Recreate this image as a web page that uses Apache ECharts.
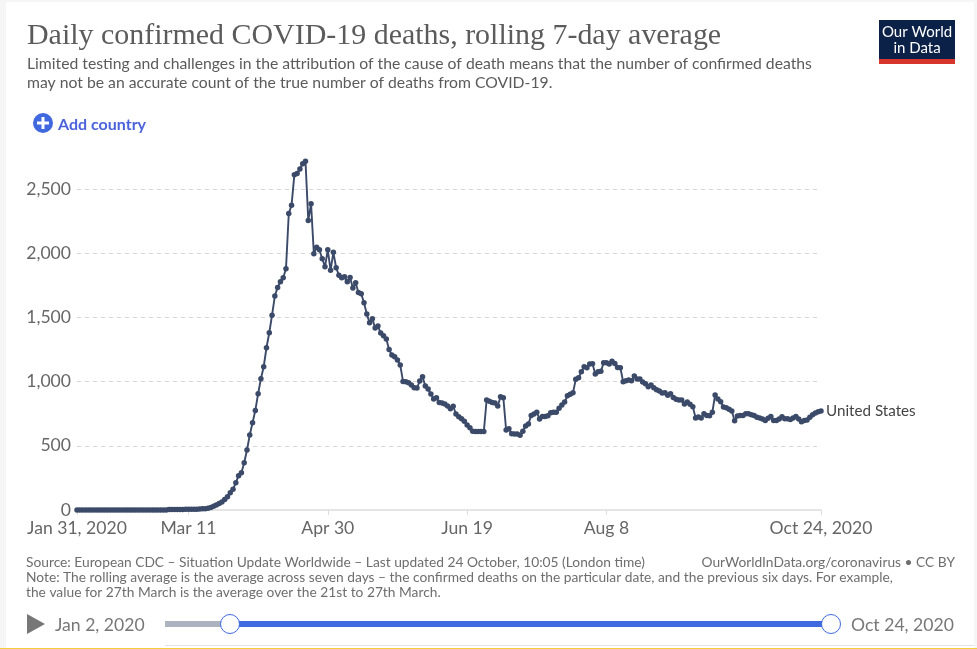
<!DOCTYPE html>
<html><head><meta charset="utf-8">
<script src="https://cdn.jsdelivr.net/npm/echarts@6/dist/echarts.min.js"></script>
<style>html,body{margin:0;padding:0;background:#fff}#c{width:977px;height:649px}</style>
</head><body><div id="c"></div>
<script>
const startDate = '2020-01-31';
const tickDates = ['2020-01-31','2020-03-11','2020-04-30','2020-06-19','2020-08-08','2020-10-24'];
const tickLabels = ['Jan 31, 2020','Mar 11','Apr 30','Jun 19','Aug 8','Oct 24, 2020'];
const yTicks = [0,500,1000,1500,2000,2500];
const seriesName = 'United States';
const deaths = [
0,0,0,0,0,0,0,0,0,0,
0,0,0,0,0,0,0,0,0,0,
0,0,0,0,0,0,0,0,0,0,
0,0,0,3,3,4,4,4,4,5,
5,5,6,6,7,9,10,14,20,30,
39,50,62,82,104,135,161,213,267,290,
368,467,584,680,776,906,1023,1116,1264,1381,
1518,1667,1734,1778,1809,1879,2310,2375,2611,2622,
2656,2697,2716,2256,2386,1996,2046,2027,1957,1895,
2027,1867,2007,1887,1828,1809,1817,1778,1812,1729,
1770,1695,1685,1614,1526,1459,1490,1417,1433,1378,
1358,1332,1251,1207,1194,1168,1129,1002,999,991,
973,952,950,1005,1038,966,942,903,864,875,
838,833,825,810,789,808,748,727,711,691,
662,641,613,611,611,611,611,857,847,838,
833,810,883,875,623,633,594,592,592,582,
613,654,670,737,748,761,709,729,729,734,
758,761,761,792,818,841,890,901,914,1018,
1030,1077,1116,1108,1137,1139,1059,1077,1080,1147,
1147,1137,1158,1142,1111,1108,999,1007,1012,1007,
1044,1020,1020,997,984,960,973,952,937,927,
911,914,893,906,877,862,857,857,825,841,
823,805,717,724,717,750,737,734,761,896,
864,844,802,797,784,771,695,732,737,737,
750,750,742,737,722,717,709,698,714,729,
698,698,709,727,711,711,706,717,729,709,
688,698,701,722,742,755,766,771
];
const categories = deaths.map((_, i) => new Date(Date.parse(startDate + 'T00:00:00Z') + i * 864e5).toISOString().slice(0, 10));

const SANS = 'Lato';
const txt = (x, y, text, size, fill, extra) => ({type:'text', silent:true, x, y, style:Object.assign({text, fontFamily:SANS, fontSize:size, fill, textVerticalAlign:'middle'}, extra||{})});
const rect = (x, y, w, h, fill, z) => ({type:'rect', silent:true, z:z||0, shape:{x,y,width:w,height:h}, style:{fill}});

const isTick = (i, v) => tickDates.indexOf(v) >= 0;
const chart = echarts.init(document.getElementById('c'), null, {renderer:'canvas'});
chart.setOption({
  animation:false,
  backgroundColor:'#f6f6f6',
  grid:{left:77, right:156, top:157, bottom:139, containLabel:false},
  xAxis:{
    type:'category', data:categories, boundaryGap:false,
    axisLine:{show:true, onZero:false, lineStyle:{color:'#dddddd', width:1.5}},
    axisTick:{show:true, interval:isTick, length:5, lineStyle:{color:'#dddddd', width:1}},
    axisLabel:{interval:isTick, hideOverlap:false, margin:9, fontFamily:SANS, fontSize:17.6, color:'#666666',
      formatter:v => tickLabels[tickDates.indexOf(v)]},
    splitLine:{show:false}
  },
  yAxis:{
    type:'value', min:0, max:2750, interval:yTicks[1]-yTicks[0],
    axisLine:{show:false}, axisTick:{show:false},
    axisLabel:{showMaxLabel:false, margin:6, padding:[0,0,2,0], fontFamily:SANS, fontSize:17.6, color:'#666666',
      formatter:v => v.toLocaleString('en-US')},
    splitLine:{show:true, showMinLine:false, showMaxLine:false, lineStyle:{color:'#d6d6d6', type:[4,4], width:1}}
  },
  series:[{
    type:'line', name:seriesName, data:deaths, showAllSymbol:true, symbol:'circle', symbolSize:5.5,
    clip:false,
    lineStyle:{color:'#3b4a68', width:1.9}, itemStyle:{color:'#3b4a68'},
    endLabel:{show:true, formatter:seriesName, distance:5, fontFamily:SANS, fontSize:15.2, color:'#444444'},
    labelLayout:{hideOverlap:false}
  }],
  graphic:{elements:[
    rect(6,2,968,647,'#ffffff',-10),
    rect(0,648,977,1,'#f2cf3a',5),
    txt(27,36,'Daily confirmed COVID-19 deaths, rolling 7-day average',29.95,'#5b5b5b',{fontFamily:'Liberation Serif'}),
    txt(27,64,'Limited testing and challenges in the attribution of the cause of death means that the number of confirmed deaths',15.74,'#5b5b5b'),
    txt(27,83,'may not be an accurate count of the true number of deaths from COVID-19.',15.74,'#5b5b5b'),
    {type:'circle', silent:true, shape:{cx:43,cy:123,r:10}, style:{fill:'#4069e0'}},
    rect(37,121.5,12,3,'#ffffff',1),
    rect(41.5,117,3,12,'#ffffff',1),
    txt(58,125,'Add country',16,'#4c63dc',{fontWeight:'bold'}),
    rect(879,20,76,39,'#0c2147'),
    rect(879,59,76,5,'#d5352a'),
    txt(917,32,'Our World',15,'#ffffff',{textAlign:'center'}),
    txt(917,48,'in Data',15,'#ffffff',{textAlign:'center'}),
    txt(26,563,'Source: European CDC – Situation Update Worldwide – Last updated 24 October, 10:05 (London time)',13.78,'#6e6e6e'),
    txt(955,563,'OurWorldInData.org/coronavirus • CC BY',13.78,'#6e6e6e',{textAlign:'right'}),
    txt(26,578,'Note: The rolling average is the average across seven days – the confirmed deaths on the particular date, and the previous six days. For example,',13.78,'#6e6e6e'),
    txt(26,593,'the value for 27th March is the average over the 21st to 27th March.',13.78,'#6e6e6e'),
    {type:'polygon', silent:true, shape:{points:[[27,614],[45,624],[27,634]]}, style:{fill:'#777777'}},
    txt(55,625,'Jan 2, 2020',17.6,'#777777'),
    rect(165,621,65,6,'#adb4c0'),
    rect(230,621,601,6,'#4069e0'),
    {type:'circle', silent:true, z:3, shape:{cx:230,cy:624,r:9.5}, style:{fill:'#ffffff', stroke:'#4069e0', lineWidth:1}},
    {type:'circle', silent:true, z:3, shape:{cx:831,cy:624,r:9.5}, style:{fill:'#ffffff', stroke:'#4069e0', lineWidth:1}},
    txt(851,625,'Oct 24, 2020',17.6,'#777777'),
    rect(165,645,809,1,'#e4e4e4')
  ]}
});
</script></body></html>
